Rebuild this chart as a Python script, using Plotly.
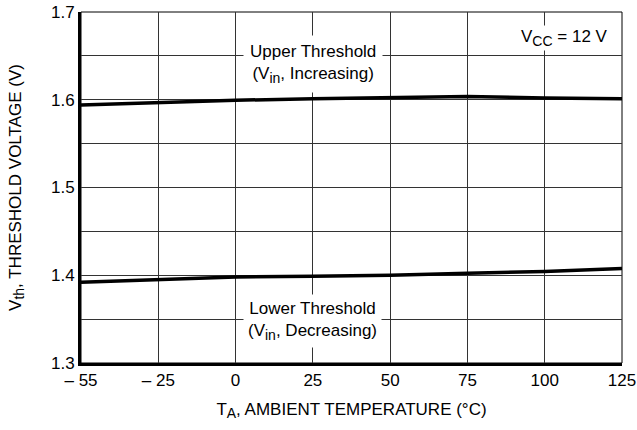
import plotly.graph_objects as go

temps = ["– 55", "– 25", "0", "25", "50", "75", "100", "125"]
upper_vth = [1.594, 1.597, 1.5995, 1.601, 1.602, 1.6037, 1.602, 1.601]
lower_vth = [1.392, 1.395, 1.398, 1.399, 1.400, 1.4023, 1.4042, 1.4076]
y_ticks = [1.3, 1.35, 1.4, 1.45, 1.5, 1.55, 1.6, 1.65, 1.7]
y_ticktext = ["1.3", "", "1.4", "", "1.5", "", "1.6", "", "1.7"]

FONT = "Liberation Sans, Arial, sans-serif"
FS = 17


def sub(t):
    return '<sub><span style="font-size:14px">' + t + '</span></sub>'


fig = go.Figure()
for vals in (upper_vth, lower_vth):
    fig.add_trace(go.Scatter(x=temps, y=vals, mode="lines",
                             line=dict(color="black", width=3.5),
                             showlegend=False, hoverinfo="skip"))

# thin top/right border
fig.add_shape(type="rect", xref="paper", yref="paper", x0=0, y0=0, x1=1, y1=1,
              line=dict(color="black", width=1), layer="below")

fig.add_annotation(x=3, y=1.6405, xref="x", yref="y",
                   text="Upper Threshold<br>(V" + sub("in") + ", Increasing)",
                   showarrow=False, bgcolor="white", borderpad=6,
                   font=dict(family=FONT, size=FS, color="black"))
fig.add_annotation(x=3, y=1.3475, xref="x", yref="y",
                   text="Lower Threshold<br>(V" + sub("in") + ", Decreasing)",
                   showarrow=False, bgcolor="white", borderpad=4,
                   font=dict(family=FONT, size=FS, color="black"))
fig.add_annotation(x=6.26, y=1.6706, xref="x", yref="y",
                   text="V" + sub("CC") + " = 12 V",
                   showarrow=False, bgcolor="white", borderpad=1,
                   font=dict(family=FONT, size=FS, color="black"))

fig.update_xaxes(type="category", range=[0, 7],
                 showline=True, linecolor="black", linewidth=3,
                 showgrid=True, gridcolor="#333", gridwidth=1,
                 ticks="", ticklabeloverflow="allow",
                 tickfont=dict(family=FONT, size=FS, color="black"),
                 title=dict(text="T" + sub("A") + ", AMBIENT TEMPERATURE (°C)",
                            font=dict(family=FONT, size=FS, color="black"),
                            standoff=14),
                 zeroline=False, fixedrange=True)
fig.update_yaxes(range=[1.3, 1.7], tickvals=y_ticks, ticktext=y_ticktext,
                 showline=True, linecolor="black", linewidth=3,
                 showgrid=True, gridcolor="#333", gridwidth=1,
                 ticks="", ticklabeloverflow="allow",
                 tickfont=dict(family=FONT, size=FS, color="black"),
                 title=dict(text="V" + sub("th") + ", THRESHOLD VOLTAGE (V)",
                            font=dict(family=FONT, size=FS, color="black"),
                            standoff=26),
                 zeroline=False, fixedrange=True)

fig.update_layout(width=637, height=430,
                  margin=dict(l=81, r=15, t=12, b=67, autoexpand=False),
                  plot_bgcolor="white", paper_bgcolor="white",
                  font=dict(family=FONT, color="black"))

fig.write_html("out.html", config={"displayModeBar": False},
               post_script="document.body.style.margin='0';"
                           "document.body.style.overflow='hidden';")
